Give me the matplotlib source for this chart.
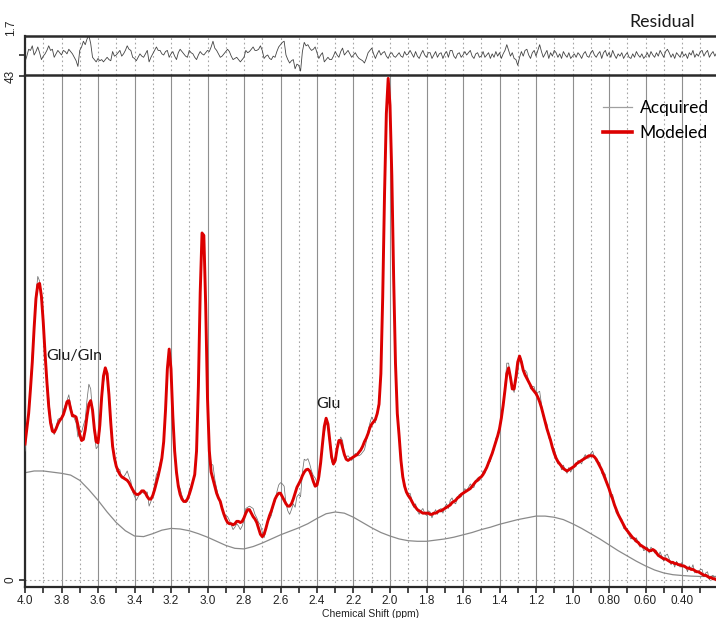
import matplotlib
matplotlib.use("Agg")
import matplotlib.pyplot as plt
import numpy as np

plt.rcParams['font.family'] = ['Liberation Sans', 'DejaVu Sans']

# ---------------- data ----------------
# chemical-shift sample grid (ppm), 4.00 -> 0.21 in 0.01 steps
ppm = np.round(np.arange(400, 20, -1) / 100.0, 2)

modeled = [
    11.6, 12.9, 14.2, 16.3, 18.6, 21.5, 24.0, 25.2, 25.3, 24.2,
    22.0, 19.3, 16.9, 14.8, 13.4, 12.7, 12.6, 12.9, 13.3, 13.6,
    13.8, 14.1, 14.6, 15.2, 15.3, 14.6, 14.0, 14.0, 13.9, 13.2,
    12.4, 11.9, 12.0, 12.8, 14.0, 15.0, 15.3, 14.5, 12.9, 11.8,
    11.7, 13.2, 15.6, 17.4, 18.1, 17.6, 15.8, 13.4, 11.4, 10.4,
    9.7, 9.3, 9.0, 8.8, 8.7, 8.6, 8.5, 8.3, 8.0, 7.7,
    7.45, 7.3, 7.3, 7.4, 7.6, 7.6, 7.4, 7.1, 6.9, 6.9,
    7.2, 7.7, 8.3, 8.9, 9.6, 10.4, 11.8, 14.5, 18.0, 19.7,
    18.0, 14.0, 11.0, 9.2, 8.0, 7.3, 6.9, 6.7, 6.7, 6.9,
    7.3, 7.8, 8.4, 9.0, 11.0, 16.5, 24.5, 29.6, 29.4, 23.5,
    15.5, 11.0, 9.2, 8.6, 8.0, 7.4, 7.0, 6.7, 6.1, 5.6,
    5.2, 4.9, 4.8, 4.8, 4.7, 4.8, 5.0, 5.0, 4.9, 5.0,
    5.3, 5.7, 6.0, 6.0, 5.7, 5.4, 5.2, 4.9, 4.4, 3.9,
    3.7, 3.9, 4.4, 5.0, 5.5, 5.9, 6.4, 6.9, 7.2, 7.4,
    7.4, 7.1, 6.8, 6.5, 6.3, 6.3, 6.5, 6.9, 7.4, 7.9,
    8.2, 8.5, 8.9, 9.2, 9.4, 9.45, 9.3, 8.9, 8.4, 8.0,
    8.1, 8.8, 10.0, 11.6, 13.1, 13.8, 13.3, 11.9, 10.5, 9.9,
    10.2, 11.2, 11.9, 11.9, 11.3, 10.7, 10.3, 10.2, 10.3, 10.4,
    10.5, 10.6, 10.7, 10.9, 11.1, 11.4, 11.8, 12.1, 12.5, 13.0,
    13.3, 13.5, 13.7, 14.2, 15.0, 17.6, 24.1, 32.9, 39.8, 42.8,
    40.5, 34.5, 25.8, 18.5, 14.2, 12.3, 10.2, 8.8, 8.0, 7.5,
    7.2, 7.0, 6.7, 6.4, 6.2, 6.0, 5.9, 5.8, 5.7, 5.7,
    5.7, 5.7, 5.6, 5.6, 5.7, 5.7, 5.8, 5.9, 5.9, 6.0,
    6.1, 6.2, 6.3, 6.4, 6.6, 6.7, 6.8, 7.0, 7.1, 7.3,
    7.4, 7.5, 7.6, 7.7, 7.8, 8.0, 8.2, 8.4, 8.5, 8.7,
    8.8, 9.0, 9.3, 9.6, 10.0, 10.4, 10.8, 11.3, 11.8, 12.3,
    12.9, 13.8, 14.9, 16.2, 17.6, 18.1, 17.3, 16.3, 16.3, 17.3,
    18.6, 19.1, 18.6, 17.9, 17.5, 17.2, 16.9, 16.6, 16.3, 16.1,
    15.9, 15.6, 15.2, 14.7, 14.1, 13.5, 12.9, 12.4, 11.9, 11.3,
    10.8, 10.4, 10.1, 9.9, 9.7, 9.5, 9.4, 9.3, 9.4, 9.5,
    9.6, 9.7, 9.9, 10.0, 10.1, 10.2, 10.3, 10.4, 10.5, 10.6,
    10.6, 10.6, 10.5, 10.3, 10.0, 9.7, 9.4, 9.0, 8.6, 8.2,
    7.8, 7.3, 6.9, 6.4, 6.0, 5.6, 5.3, 5.0, 4.7, 4.4,
    4.2, 4.0, 3.8, 3.6, 3.5, 3.3, 3.2, 3.0, 2.9, 2.8,
    2.7, 2.6, 2.5, 2.5, 2.6, 2.5, 2.3, 2.1, 2.0, 1.9,
    1.8, 1.8, 1.7, 1.6, 1.5, 1.5, 1.4, 1.4, 1.3, 1.3,
    1.2, 1.2, 1.1, 1.0, 1.0, 0.9, 0.9, 0.8, 0.7, 0.7,
    0.6, 0.5, 0.4, 0.4, 0.3, 0.2, 0.2, 0.1, 0.1, 0.0,
]

residual = [
    -0.6, -0.1, 0.5, 0.4, 0.8, 0.0, 0.3, 0.7, 0.2, -0.4,
    -0.1, 0.1, 0.4, 0.8, 0.4, 0.5, -0.2, 0.1, 0.4, 0.2,
    0.0, 0.4, 0.3, 0.1, 0.5, 0.3, 0.1, -0.2, -0.5, -1.0,
    0.4, 0.7, 1.2, 0.9, 1.4, 1.7, 1.0, -0.2, -0.4, -0.6,
    -0.3, -0.5, -0.4, -0.6, -0.4, -0.2, -0.4, -0.5, 0.3, -0.1,
    0.0, 0.2, 0.4, -0.1, 0.1, 0.4, 0.8, 0.5, 0.4, -0.2,
    -0.3, -0.5, -0.2, 0.1, -0.1, -0.2, 0.1, 0.4, -0.6, -0.2,
    0.1, 0.4, 0.7, 0.4, 0.4, 0.1, 0.0, 0.3, 0.4, -0.2,
    0.1, 0.3, -0.1, -0.4, 0.2, 0.5, 0.3, 0.1, -0.1, -0.2,
    0.4, 0.2, 0.1, -0.2, -0.4, 0.0, 0.3, 0.1, 0.0, 0.2,
    0.4, 0.3, 0.7, 1.2, 0.6, 0.4, 0.1, -0.2, -0.1, 0.1,
    0.3, 0.5, 0.3, -0.1, -0.4, -0.3, -0.2, -0.4, -0.6, -0.4,
    -0.2, 0.4, 0.2, 0.3, 0.5, 0.7, 0.4, 0.4, 0.5, 0.8,
    0.4, -0.3, -0.1, 0.0, -0.3, -0.4, -0.1, -0.2, 0.3, 0.7,
    0.9, 1.1, 1.2, 0.0, -0.4, -0.7, -0.5, -0.4, -1.2, -0.8,
    -0.9, -1.4, 0.3, 1.1, 0.8, 0.9, 0.6, 0.4, 0.5, 0.7,
    0.2, -0.3, 0.0, 0.2, -0.6, -0.4, -0.2, -0.4, -0.4, -0.1,
    0.3, 0.0, -0.2, 0.3, 0.6, 0.0, 0.2, 0.4, 0.1, -0.2,
    0.0, 0.2, -0.1, -0.3, -0.4, -0.5, -0.7, -0.3, 0.2, 0.4,
    0.6, 0.1, -0.3, 0.1, 0.4, 0.0, 0.2, 0.3, -0.1, -0.3,
    0.1, 0.2, -0.1, -0.2, 0.0, 0.2, -0.1, -0.2, 0.3, 0.0,
    0.1, 0.4, 0.1, -0.2, 0.3, -0.1, -0.3, 0.1, 0.4, 0.0,
    -0.2, 0.2, 0.2, -0.3, 0.0, 0.3, -0.2, 0.1, 0.2, -0.3,
    0.1, 0.3, -0.2, 0.4, 0.4, -0.1, -0.3, 0.1, 0.2, -0.2,
    0.0, 0.3, 0.0, 0.2, 0.4, -0.1, -0.3, 0.1, 0.2, -0.2,
    -0.1, 0.3, -0.2, 0.0, 0.2, -0.3, 0.1, -0.2, 0.3, -0.1,
    0.2, -0.3, 0.1, 0.4, 0.9, 0.4, -0.1, 0.2, -0.3, -0.4,
    -0.9, -0.2, 0.3, -0.1, 0.4, 0.5, 0.0, -0.3, 0.2, 0.4,
    -0.1, 0.4, 0.9, 0.3, -0.2, 0.1, 0.4, -0.3, 0.2, -0.1,
    0.4, 0.2, -0.2, 0.1, -0.3, 0.3, 0.0, -0.2, 0.2, -0.3,
    -0.1, 0.1, -0.2, 0.2, 0.0, -0.3, 0.1, 0.3, -0.1, -0.2,
    0.2, 0.4, 0.0, -0.2, 0.1, 0.3, -0.3, 0.2, 0.4, -0.1,
    0.2, -0.2, 0.4, 0.0, -0.3, 0.1, -0.1, 0.2, -0.3, 0.0,
    0.2, -0.2, -0.3, 0.1, -0.2, 0.3, 0.0, -0.2, 0.1, -0.3,
    -0.1, 0.2, -0.2, 0.3, 0.0, -0.2, 0.2, -0.1, 0.4, 0.1,
    -0.2, 0.3, 0.5, 0.2, -0.2, 0.1, -0.3, 0.2, 0.0, -0.2,
    0.3, -0.1, 0.1, -0.3, 0.2, 0.0, 0.4, -0.2, 0.1, -0.1,
    0.3, 0.4, -0.1, 0.2, 0.4, -0.2, 0.1, 0.3, -0.1, 0.2,
]

# smooth baseline, 4.00 -> 0.20 in 0.05 steps
baseline_ppm = np.round(np.arange(400, 15, -5) / 100.0, 2)
baseline = [
    9.15, 9.3, 9.3, 9.2, 9.1, 8.95, 8.5, 7.7, 6.8, 5.8,
    4.9, 4.2, 3.75, 3.7, 3.95, 4.25, 4.4, 4.35, 4.2, 3.95,
    3.65, 3.3, 2.95, 2.7, 2.65, 2.85, 3.15, 3.5, 3.85, 4.15,
    4.45, 4.8, 5.25, 5.65, 5.8, 5.7, 5.35, 4.9, 4.45, 4.05,
    3.75, 3.5, 3.35, 3.3, 3.3, 3.4, 3.5, 3.65, 3.85, 4.05,
    4.3, 4.5, 4.75, 4.95, 5.15, 5.3, 5.45, 5.45, 5.35, 5.15,
    4.8, 4.4, 3.95, 3.5, 3.0, 2.5, 2.05, 1.6, 1.2, 0.85,
    0.6, 0.45, 0.38, 0.33, 0.3, 0.3, 0.3,
]

major_ticks = [4.0, 3.8, 3.6, 3.4, 3.2, 3.0, 2.8, 2.6, 2.4, 2.2, 2.0,
               1.8, 1.6, 1.4, 1.2, 1.0, 0.8, 0.6, 0.4]
tick_labels = ['4.0', '3.8', '3.6', '3.4', '3.2', '3.0', '2.8', '2.6', '2.4',
               '2.2', '2.0', '1.8', '1.6', '1.4', '1.2', '1.0', '0.80',
               '0.60', '0.40']
minor_ticks = [3.9, 3.7, 3.5, 3.3, 3.1, 2.9, 2.7, 2.5, 2.3, 2.1, 1.9,
               1.7, 1.5, 1.3, 1.1, 0.9, 0.7, 0.5, 0.3]
labels = ['Acquired', 'Modeled']
peak_labels = ['Glu/Gln', 'Glu']

modeled = np.array(modeled)
residual = np.array(residual)
baseline = np.array(baseline)
acquired = modeled + residual

# ---------------- figure ----------------
W, H = 716, 618
fig = plt.figure(figsize=(W / 100, H / 100), dpi=100)
x_left = 25
main_top, main_bot = 74.5, 587
res_top = 35.5
ax = fig.add_axes([x_left / W, 1 - main_bot / H, (W - x_left) / W,
                   (main_bot - main_top) / H])
axr = fig.add_axes([x_left / W, 1 - main_top / H, (W - x_left) / W,
                    (main_top - res_top) / H])

xmax_ppm = 4.0 - (W - x_left) / 182.5
for a in (ax, axr):
    a.set_xlim(4.0, xmax_ppm)
    a.set_facecolor('white')

spine_c = '#2a2a2a'
dot = (0, (1.5, 2.5))

# main axes grid and ticks
ax.set_xticks(major_ticks)
ax.set_xticklabels(tick_labels)
ax.set_xticks(minor_ticks, minor=True)
ax.grid(which='major', axis='x', color='#8f8f8f', lw=0.8, ls='-')
ax.grid(which='minor', axis='x', color='#a5a5a5', lw=0.8, ls=dot)
ax.axhline(0, color='#aaaaaa', lw=0.8, ls=dot, zorder=1)
ax.set_axisbelow(True)
ax.tick_params(axis='x', which='both', direction='out', length=4,
               width=1.2, color=spine_c, labelsize=8.5, pad=2,
               labelcolor='#222222')
ax.set_ylim(-0.6, 43.13)
ax.set_yticks([0, 43])
ax.set_yticklabels(['0', '43'], rotation=90, va='center')
ax.tick_params(axis='y', direction='out', length=4, width=1.2,
               color=spine_c, labelsize=8.5, pad=2, labelcolor='#222222')
for s in ('top', 'right'):
    ax.spines[s].set_visible(False)
for s in ('left', 'bottom'):
    ax.spines[s].set_color(spine_c)
    ax.spines[s].set_linewidth(1.6)

ax.set_xlabel('Chemical Shift (ppm)', fontsize=7.5, labelpad=1,
              color='#222222')

# curves
ax.plot(baseline_ppm, baseline, color='#8a8a8a', lw=0.9, zorder=2)
acq_line, = ax.plot(ppm, acquired, color='#707070', lw=0.55, zorder=3)
mod_line, = ax.plot(ppm, modeled, color='#dc0000', lw=2.1, zorder=4,
                    solid_joinstyle='round')

lab_font = dict(family=['Lato', 'DejaVu Sans'])
ax.text(3.885, 18.8, peak_labels[0], fontsize=11.5, ha='left',
        va='baseline', color='#1a1a1a', **lab_font)
ax.text(2.405, 14.7, peak_labels[1], fontsize=11.5, ha='left',
        va='baseline', color='#1a1a1a', **lab_font)

leg = ax.legend([acq_line, mod_line], labels, loc='upper left',
                bbox_to_anchor=(603 / W, 1 - 100 / H),
                bbox_transform=fig.transFigure, frameon=False,
                borderpad=0, borderaxespad=0, handlelength=1.65,
                handletextpad=0.45, labelspacing=0.5,
                prop={'family': ['Lato', 'DejaVu Sans'], 'size': 12.5})
leg.get_lines()[0].set_color('#a0a0a0')
leg.get_lines()[0].set_linewidth(0.9)
leg.get_lines()[1].set_linewidth(2.6)

# residual panel
axr.set_ylim(-1.7, 1.7)
axr.set_xticks(major_ticks + minor_ticks)
axr.grid(axis='x', color='#a5a5a5', lw=0.8, ls=dot)
axr.set_axisbelow(True)
axr.tick_params(axis='x', bottom=False, labelbottom=False)
axr.set_yticks([0])
axr.set_yticklabels([''])
axr.tick_params(axis='y', direction='out', length=4, width=1.2,
                color=spine_c)
axr.spines['right'].set_visible(False)
for s in ('top', 'bottom'):
    axr.spines[s].set_color(spine_c)
    axr.spines[s].set_linewidth(1.8)
axr.spines['left'].set_color(spine_c)
axr.spines['left'].set_linewidth(1.6)
axr.plot(ppm, residual, color='#444444', lw=0.6)
axr.text(-0.012, 1.0, '1.7', transform=axr.transAxes, rotation=90,
         ha='right', va='bottom', fontsize=8.5, color='#222222')

fig.text(629 / W, 1 - 27 / H, 'Residual', ha='left', va='baseline',
         fontsize=12.8, color='#1a1a1a', family=['Lato', 'DejaVu Sans'])

fig.savefig('out.png', dpi=100, facecolor='white')
